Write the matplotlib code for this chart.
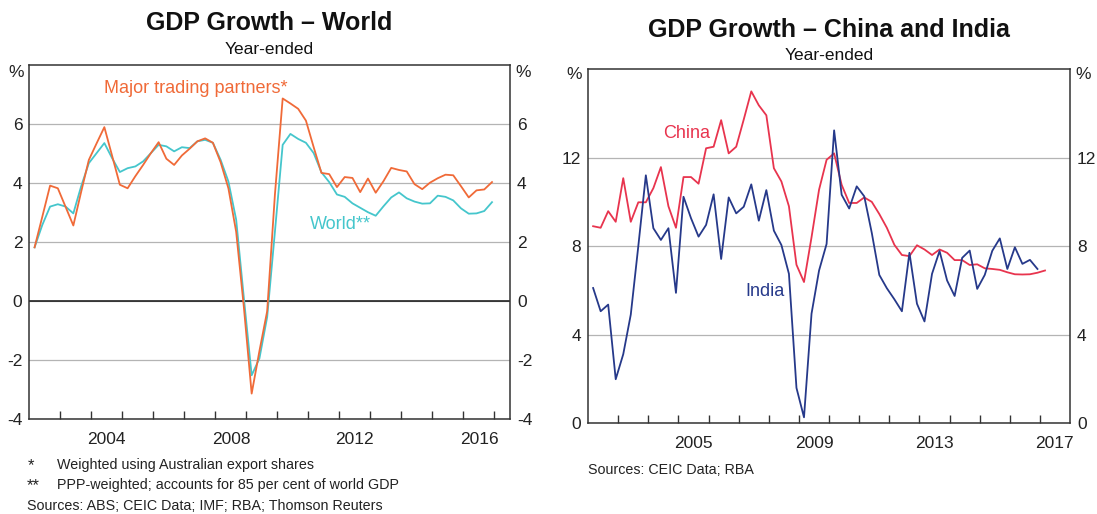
import matplotlib.pyplot as plt
import pandas as pd

plt.rcParams['font.family'] = ['Liberation Sans', 'DejaVu Sans']
plt.rcParams['axes.unicode_minus'] = False

# quarterly series, year-ended growth in per cent
world_quarters = pd.period_range('2002Q1', '2016Q4', freq='Q')
china_quarters = pd.period_range('2002Q1', '2017Q1', freq='Q')
india_quarters = pd.period_range('2002Q1', '2016Q4', freq='Q')

major_trading_partners = [
    1.81, 2.85, 3.90, 3.81, 3.18, 2.55, 3.68, 4.77, 5.33, 5.88,
    4.91, 3.93, 3.81, 4.22, 4.60, 5.00, 5.37, 4.81, 4.60, 4.92,
    5.15, 5.40, 5.50, 5.35, 4.69, 3.81, 2.34, -0.23, -3.14, -1.70,
    -0.35, 3.60, 6.85, 6.68, 6.50, 6.10, 5.20, 4.33, 4.29, 3.85,
    4.19, 4.16, 3.68, 4.14, 3.66, 4.05, 4.50, 4.43, 4.38, 3.95,
    3.78, 4.00, 4.15, 4.27, 4.25, 3.88, 3.50, 3.74, 3.77, 4.02,
]
world = [
    1.81, 2.57, 3.19, 3.27, 3.19, 2.96, 3.87, 4.66, 5.00, 5.34,
    4.83, 4.36, 4.49, 4.55, 4.72, 5.00, 5.28, 5.23, 5.06, 5.20,
    5.17, 5.40, 5.45, 5.35, 4.77, 4.04, 2.75, 0.08, -2.52, -1.95,
    -0.55, 2.34, 5.28, 5.65, 5.48, 5.35, 5.00, 4.35, 4.02, 3.60,
    3.52, 3.30, 3.15, 3.00, 2.88, 3.20, 3.50, 3.67, 3.47, 3.36,
    3.29, 3.30, 3.56, 3.52, 3.40, 3.13, 2.95, 2.96, 3.04, 3.34,
]
china = [
    8.90, 8.83, 9.58, 9.10, 11.07, 9.10, 9.98, 9.98, 10.62, 11.57,
    9.80, 8.83, 11.12, 11.12, 10.82, 12.42, 12.49, 13.69, 12.19, 12.49,
    13.72, 14.99, 14.36, 13.91, 11.52, 10.92, 9.80, 7.16, 6.38, 8.40,
    10.55, 11.90, 12.19, 10.77, 9.95, 9.95, 10.20, 10.00, 9.45, 8.83,
    8.06, 7.60, 7.55, 8.04, 7.85, 7.60, 7.85, 7.70, 7.37, 7.37,
    7.15, 7.18, 7.00, 6.97, 6.93, 6.82, 6.73, 6.72, 6.73, 6.80,
    6.90,
]
india = [
    6.11, 5.06, 5.36, 1.99, 3.12, 4.91, 8.00, 11.20, 8.81, 8.28,
    8.81, 5.89, 10.23, 9.26, 8.43, 8.96, 10.34, 7.42, 10.20, 9.48,
    9.78, 10.79, 9.15, 10.53, 8.70, 8.05, 6.75, 1.60, 0.27, 4.95,
    6.90, 8.10, 13.23, 10.32, 9.70, 10.70, 10.25, 8.60, 6.70, 6.10,
    5.60, 5.06, 7.70, 5.40, 4.60, 6.75, 7.78, 6.45, 5.75, 7.47,
    7.80, 6.07, 6.70, 7.79, 8.35, 6.97, 7.95, 7.20, 7.38, 6.97,
]

MTP_COLOUR = '#f06a38'
WORLD_COLOUR = '#45c6cc'
CHINA_COLOUR = '#e8344e'
INDIA_COLOUR = '#26398a'
W, H = 1097, 514


def to_year(quarters):
    # each quarter is drawn a little after its start, like the original
    return [q.year + (q.quarter - 1) / 4 + 0.17 for q in quarters]


def box(x0, y0, x1, y1):
    # pixel box -> figure fraction rect
    return [x0 / W, 1 - y1 / H, (x1 - x0) / W, (y1 - y0) / H]


def style_axes(ax, xlim, ylim, yticks, labelled_years, pct_y):
    ax.set_xlim(*xlim)
    ax.set_ylim(*ylim)
    for s in ax.spines.values():
        s.set_color('#333333')
        s.set_linewidth(1.1)
    ax.set_yticks(yticks)
    ax.tick_params(axis='y', length=0, pad=5, labelsize=12.5,
                   labelleft=True, labelright=True, colors='#222222')
    ax.grid(axis='y', color='#b4b4b4', linewidth=0.9)
    ax.set_axisbelow(True)
    # year ticks at boundaries, labels centred in the year
    ax.set_xticks(range(2003, 2018))
    ax.set_xticklabels([])
    ax.tick_params(axis='x', which='major', direction='in', length=6,
                   width=1.0, color='#333333')
    ax.set_xticks([y + 0.5 for y in labelled_years], minor=True)
    ax.set_xticklabels([str(y) for y in labelled_years], minor=True)
    ax.tick_params(axis='x', which='minor', length=0, pad=9, labelsize=12.5,
                   colors='#222222')
    for side, ha in ((-0.012, 'right'), (1.012, 'left')):
        ax.text(side, pct_y, '%', transform=ax.get_yaxis_transform(),
                ha=ha, va='center', fontsize=12.5, color='#222222')


fig = plt.figure(figsize=(W / 100, H / 100), dpi=100)

# ---- left panel: world
ax1 = fig.add_axes(box(29.3, 64.5, 510, 419))
ax1.plot(to_year(world_quarters), world, color=WORLD_COLOUR, lw=1.3)
ax1.plot(to_year(world_quarters), major_trading_partners, color=MTP_COLOUR, lw=1.3)
ax1.axhline(0, color='#111111', lw=1.1, zorder=1)
style_axes(ax1, (2002, 2017.5), (-4, 8), [-4, -2, 0, 2, 4, 6],
           [2004, 2008, 2012, 2016], 7.72)
ax1.text(2004.41, 7.2, 'Major trading partners*', color=MTP_COLOUR,
         fontsize=13, va='center', ha='left')
ax1.text(2011.05, 2.59, 'World**', color=WORLD_COLOUR,
         fontsize=13, va='center', ha='left')

fig.text(269 / W, 1 - 23 / H, 'GDP Growth \u2013 World', ha='center',
         va='center', fontsize=18, fontweight='bold', color='#111111')
fig.text(269 / W, 1 - 49 / H, 'Year-ended', ha='center', va='center',
         fontsize=12.5, color='#111111')

# ---- right panel: China and India
ax2 = fig.add_axes(box(588, 69, 1070, 423.3))
ax2.plot(to_year(china_quarters), china, color=CHINA_COLOUR, lw=1.3)
ax2.plot(to_year(india_quarters), india, color=INDIA_COLOUR, lw=1.3)
style_axes(ax2, (2002, 2018), (0, 16), [0, 4, 8, 12],
           [2005, 2009, 2013, 2017], 15.73)
ax2.text(2004.49, 13.1, 'China', color=CHINA_COLOUR, fontsize=13,
         va='center', ha='left')
ax2.text(2007.21, 5.97, 'India', color=INDIA_COLOUR, fontsize=13,
         va='center', ha='left')

fig.text(829 / W, 1 - 30 / H, 'GDP Growth \u2013 China and India',
         ha='center', va='center', fontsize=18, fontweight='bold',
         color='#111111')
fig.text(829 / W, 1 - 55 / H, 'Year-ended', ha='center', va='center',
         fontsize=12.5, color='#111111')

# ---- notes
note = dict(fontsize=10.3, va='center', color='#222222')
fig.text(28 / W, 1 - 466 / H, '*', fontsize=12, va='center', color='#222222')
fig.text(57 / W, 1 - 465 / H, 'Weighted using Australian export shares', **note)
fig.text(27 / W, 1 - 486 / H, '**', fontsize=12, va='center', color='#222222')
fig.text(57 / W, 1 - 485 / H, 'PPP-weighted; accounts for 85 per cent of world GDP', **note)
fig.text(27 / W, 1 - 506 / H, 'Sources: ABS; CEIC Data; IMF; RBA; Thomson Reuters', **note)
fig.text(588 / W, 1 - 470 / H, 'Sources: CEIC Data; RBA', **note)

fig.savefig('out.png', dpi=100)
